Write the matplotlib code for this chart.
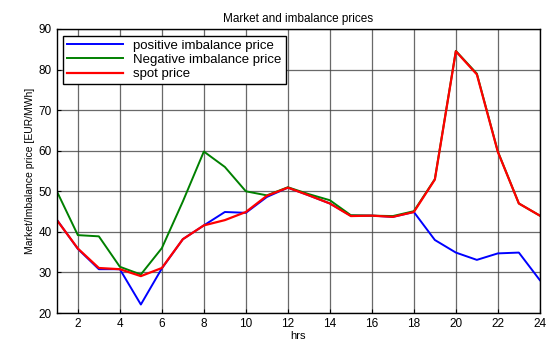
import matplotlib
matplotlib.use("Agg")
import matplotlib.pyplot as plt

plt.rcParams['font.family'] = ['Liberation Sans', 'DejaVu Sans']

hours = list(range(1, 25))
positive_imbalance = [43.0, 35.8, 30.8, 30.8, 22.1, 31.0, 38.2, 41.6, 44.9, 44.7, 48.6, 50.9,
                      49.0, 47.0, 44.0, 44.0, 43.7, 44.9, 38.0, 34.9, 33.1, 34.7, 34.9, 28.1]
negative_imbalance = [50.0, 39.2, 38.9, 31.4, 29.5, 36.0, 47.5, 59.8, 56.0, 50.0, 49.0, 51.0,
                      49.3, 47.8, 44.1, 44.0, 43.9, 45.1, 53.0, 84.6, 79.0, 59.8, 47.0, 44.0]
spot_price = [42.9, 35.9, 31.1, 30.8, 29.1, 31.1, 38.2, 41.6, 42.9, 44.9, 48.9, 50.9,
              49.0, 47.0, 43.9, 44.0, 43.7, 44.9, 52.9, 84.5, 78.8, 59.7, 47.0, 44.0]
x_ticks = list(range(2, 25, 2))
y_ticks = list(range(20, 91, 10))

fig = plt.figure(figsize=(5.52, 3.41), dpi=100)
ax = fig.add_axes([0.103, 0.082, 0.875, 0.833])

ax.plot(hours, positive_imbalance, color='#0000ff', lw=1.4, label='positive imbalance price')
ax.plot(hours, negative_imbalance, color='#008000', lw=1.4, label='Negative imbalance price')
ax.plot(hours, spot_price, color='#ff0000', lw=1.6, label='spot price')

ax.set_xlim(1, 24)
ax.set_ylim(20, 90)
ax.set_xticks(x_ticks)
ax.set_yticks(y_ticks)
ax.grid(True, color='#444444', lw=0.9, alpha=0.8)
ax.tick_params(direction='in', labelsize=8.5, length=3, width=0.8)
for s in ax.spines.values():
    s.set_linewidth(1.0)

ax.set_title('Market and imbalance prices', fontsize=8.5, pad=5)
ax.set_xlabel('hrs', fontsize=8, labelpad=1)
ax.set_ylabel('Market/Imbalance price [EUR/MWh]', fontsize=7.5, labelpad=3)

leg = ax.legend(loc='upper left', fontsize=9.5, fancybox=False, framealpha=1,
                edgecolor='black', borderpad=0.3, labelspacing=0.15,
                handlelength=4.2, borderaxespad=0.5)
leg.get_frame().set_linewidth(1.0)

fig.savefig('out.png', dpi=100)
